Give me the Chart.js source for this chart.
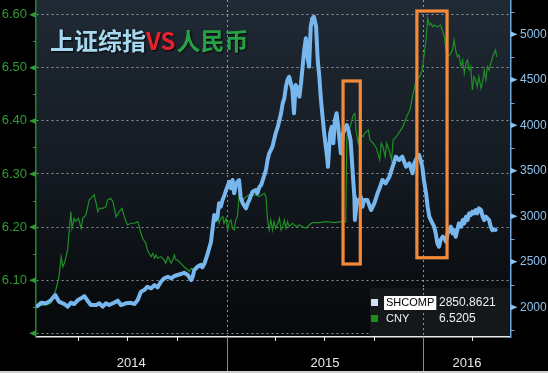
<!DOCTYPE html>
<html>
<head>
<meta charset="utf-8">
<script src="https://cdn.jsdelivr.net/npm/chart.js@4.4.1/dist/chart.umd.min.js"></script>
<style>
  html, body { margin: 0; padding: 0; background: #000; }
  #wrap { width: 548px; height: 373px; position: relative; }
  canvas { display: block; }
</style>
</head>
<body>
<div id="wrap"><canvas id="c" width="548" height="373"></canvas></div>
<script>
// x values are day offsets counted from 2014-01-01
const shDays = [14,21,30,39,47,54,64,70,76,82,89,95,101,107,113,123,129,135,141,147,156,163,169,178,
  187,194,200,206,212,218,225,231,237,243,249,256,262,268,274,280,286,293,299,302,305,311,317,320,324,
  330,336,339,342,345,348,351,354,358,360,364,370,373,376,379,382,385,388,391,395,401,404,407,413,419,
  422,426,429,432,438,441,444,450,453,456,460,463,466,469,472,475,478,481,484,487,490,493,497,500,503,
  506,509,512,515,518,521,524,527,531,534,537,540,543,546,549,552,553,557,560,563,566,569,572,577,581,
  588,591,595,599,602,603,607,611,614,617,620,626,633,639,645,649,654,660,667,673,679,685,691,698,704,
  710,713,719,722,725,728,731,735,738,741,744,747,750,753,756,759,762,766,769,772,775,778,781,784,787,
  790,793,796,800,803,806,809,812,815,818,821,824,827,830,833,837,840,843,846,849,852,855,858,861,864];
const shVals = [2014,2051,2044,2080,2135,2062,2036,2007,2051,2036,2080,2099,2124,2073,2025,2025,2044,2007,2044,2025,2051,2073,2025,2044,
  2050,2036,2080,2171,2190,2226,2209,2245,2220,2281,2319,2336,2319,2344,2355,2366,2380,2355,2300,2336,2410,2446,2465,2440,2483,
  2593,2721,2868,3014,2960,2996,3143,3106,3190,3215,3289,3380,3308,3399,3253,3344,3380,3399,3215,3143,3088,3143,3179,3270,3289,
  3253,3325,3344,3399,3509,3619,3692,3765,3839,3912,3985,4058,4132,4242,4297,4424,4498,4534,4462,4388,4132,4443,4406,4315,4462,
  4645,4828,4956,4754,4645,5083,5174,5193,5083,4718,4534,4278,4095,3912,3765,3619,3545,3912,3985,3802,4058,4132,3985,3692,3912,
  4003,3948,3838,3473,3215,2959,3179,3143,3215,3105,3179,3179,3069,3143,3253,3311,3399,3363,3435,3545,3655,3619,3655,3545,3582,
  3473,3582,3655,3674,3619,3545,3399,3253,3105,2996,2959,2923,2886,2813,2703,2666,2740,2776,2758,2721,2813,2849,2886,2813,2849,
  2776,2849,2923,2886,2959,2923,2996,2959,3033,3014,3051,3033,3069,3033,3088,3069,2996,2959,2996,2978,2959,2886,2849,2857,2851];

const cnyDays = [14,30,39,48,54,58,61,64,67,70,73,76,78,82,85,90,95,98,104,110,116,119,123,126,129,135,141,144,150,154,
  160,166,171,175,181,187,194,200,203,206,209,215,218,221,225,228,231,234,237,243,246,249,252,256,258,262,265,268,271,274,
  280,286,293,296,299,305,311,317,323,330,336,339,342,345,348,351,354,358,360,364,367,370,373,376,379,382,385,388,391,395,
  401,407,413,419,425,435,438,441,444,447,450,453,456,460,463,466,469,472,475,478,481,487,494,500,506,512,518,524,537,549,
  565,577,586,588,589,594,600,603,605,609,612,618,621,628,631,637,643,649,652,655,659,662,668,671,674,680,686,692,699,705,
  711,717,723,728,731,735,738,741,744,747,750,756,762,766,769,772,775,778,781,784,787,790,793,796,800,803,806,809,812,815,
  818,821,824,827,830,833,837,840,843,846,849,852,855,858,861,864,866];
const cnyVals = [6.0514,6.0533,6.0570,6.0815,6.1066,6.1443,6.1254,6.1318,6.1443,6.1569,6.1945,6.2290,6.1977,6.2166,6.2102,6.2166,6.1977,6.2166,6.2228,6.2510,
  6.2573,6.2605,6.2448,6.2290,6.2354,6.2354,6.2384,6.2510,6.2542,6.2478,6.2196,6.2290,6.2354,6.2196,6.2040,6.2072,6.2072,6.2102,6.2008,6.1883,
  6.1789,6.1695,6.1569,6.1507,6.1443,6.1507,6.1412,6.1475,6.1412,6.1443,6.1412,6.1380,6.1318,6.1443,6.1412,6.1318,6.1380,6.1475,6.1380,6.1380,
  6.1318,6.1254,6.1192,6.1160,6.1224,6.1192,6.1286,6.1318,6.1318,6.1569,6.1757,6.1945,6.2072,6.2134,6.2228,6.2072,6.2166,6.2196,6.2072,6.2166,
  6.1945,6.2102,6.2134,6.1977,6.1945,6.2134,6.2196,6.2573,6.2478,6.2510,6.2573,6.2605,6.2605,6.2605,6.2573,6.2637,6.2573,6.2134,6.1945,6.2134,
  6.1945,6.2102,6.1977,6.2072,6.2166,6.1945,6.2008,6.2134,6.1977,6.2102,6.2008,6.2072,6.2008,6.2040,6.2008,6.1977,6.2040,6.2083,6.2083,6.2102,
  6.2083,6.2102,6.2102,6.3640,6.3766,6.3891,6.4111,6.4143,6.3829,6.3578,6.3766,6.3702,6.3766,6.3829,6.3640,6.3578,6.3484,6.3264,6.3578,6.3514,
  6.3326,6.3578,6.3390,6.3264,6.3640,6.3702,6.3797,6.3891,6.4079,6.4205,6.4520,6.4770,6.4832,6.4959,6.5209,6.5524,6.5932,6.5806,6.5838,6.5774,
  6.5806,6.5774,6.5806,6.5680,6.5586,6.5335,6.5209,6.5241,6.5273,6.5335,6.5524,6.5335,6.5209,6.5241,6.5021,6.5147,6.4896,6.5085,6.5147,6.4959,
  6.5021,6.4582,6.4832,6.4770,6.4644,6.4832,6.4614,6.4738,6.4959,6.4770,6.5021,6.4959,6.5085,6.5179,6.5273,6.5335,6.5205];

const cnyTicks = [6.0, 6.1, 6.2, 6.3, 6.4, 6.5, 6.6];
const cnyMinor = [6.05, 6.15, 6.25, 6.35, 6.45, 6.55];
const shTicks = [2000, 2500, 3000, 3500, 4000, 4500, 5000];
const shMinor = [1750, 2250, 2750, 3250, 3750, 4250, 4750, 5250];
const quarterDays = [90, 181, 273, 455, 546, 638, 821];
const yearDays = [0, 365, 730, 1095];
const yearLabels = ['2014', '2015', '2016'];

const legendNames = ['SHCOMP', 'CNY'];
const legendValues = ['2850.8621', '6.5205'];
const titleParts = ['上证综指', 'VS', '人民币'];

// highlighted periods: [startDay, endDay, topSH, bottomSH]
const boxStart = [581, 718];
const boxEnd = [613, 774];
const boxTop = [4487, 5256];
const boxBottom = [2476, 2545];

const X_MIN = 11.3, X_MAX = 891.7;
const CNY_MIN = 5.993, CNY_MAX = 6.6277;
const SH_MIN = 1674, SH_MAX = 5377;

const C_BLUE = '#78b6ee';
const C_GREEN = '#1f8f24';
const C_GREEN_TXT = '#2e9c32';
const C_BLUE_TXT = '#8cc2ee';
const GRID = 'rgba(185,190,195,0.75)';

function noPad(s) { s.paddingTop = 0; s.paddingBottom = 0; s.paddingLeft = 0; s.paddingRight = 0; }

const decor = {
  id: 'decor',
  beforeDraw(chart) {
    const {ctx, chartArea: a} = chart;
    ctx.save();
    ctx.fillStyle = '#000';
    ctx.fillRect(0, 0, chart.width, chart.height);
    const g = ctx.createLinearGradient(0, a.top, 0, a.bottom);
    g.addColorStop(0, '#202a35');
    g.addColorStop(0.55, '#131920');
    g.addColorStop(1, '#06080a');
    ctx.fillStyle = g;
    ctx.fillRect(a.left, a.top, a.right - a.left, a.bottom - a.top);
    ctx.restore();
  },
  beforeDatasetsDraw(chart) {
    const {ctx, chartArea: a, scales: {x}} = chart;
    ctx.save();
    ctx.strokeStyle = GRID;
    ctx.lineWidth = 1;
    ctx.setLineDash([2, 3]);
    [yearDays[1], yearDays[2]].forEach(d => {
      const px = Math.round(x.getPixelForValue(d)) + 0.5;
      ctx.beginPath(); ctx.moveTo(px, a.top); ctx.lineTo(px, a.bottom); ctx.stroke();
    });
    ctx.restore();
  },
  afterDatasetsDraw(chart) {
    const {ctx, scales: {x, yR}} = chart;
    ctx.save();
    ctx.strokeStyle = '#f28a3a';
    ctx.lineWidth = 3.2;
    for (let i = 0; i < boxStart.length; i++) {
      const x1 = x.getPixelForValue(boxStart[i]), x2 = x.getPixelForValue(boxEnd[i]);
      const y1 = yR.getPixelForValue(boxTop[i]), y2 = yR.getPixelForValue(boxBottom[i]);
      ctx.strokeRect(x1, y1, x2 - x1, y2 - y1);
    }
    ctx.restore();
  },
  afterDraw(chart) {
    const {ctx, chartArea: a, scales: {x, yL, yR}} = chart;
    ctx.save();
    // left axis markers
    ctx.fillStyle = C_GREEN_TXT; ctx.strokeStyle = C_GREEN_TXT; ctx.lineWidth = 1;
    cnyTicks.forEach(v => {
      const py = yL.getPixelForValue(v);
      ctx.beginPath(); ctx.moveTo(a.left, py - 3); ctx.lineTo(a.left - 7, py); ctx.lineTo(a.left, py + 3); ctx.closePath(); ctx.fill();
    });
    cnyMinor.forEach(v => {
      const py = Math.round(yL.getPixelForValue(v)) + 0.5;
      ctx.beginPath(); ctx.moveTo(a.left - 3, py); ctx.lineTo(a.left, py); ctx.stroke();
    });
    // right axis markers
    ctx.fillStyle = C_BLUE_TXT; ctx.strokeStyle = '#6fa8dc';
    shTicks.forEach(v => {
      const py = yR.getPixelForValue(v);
      ctx.beginPath(); ctx.moveTo(a.right, py - 3); ctx.lineTo(a.right + 7, py); ctx.lineTo(a.right, py + 3); ctx.closePath(); ctx.fill();
    });
    shMinor.forEach(v => {
      const py = Math.round(yR.getPixelForValue(v)) + 0.5;
      ctx.beginPath(); ctx.moveTo(a.right, py); ctx.lineTo(a.right + 4, py); ctx.stroke();
    });
    // bottom axis ticks
    ctx.strokeStyle = '#e8e8e8'; ctx.lineWidth = 1;
    quarterDays.forEach(d => {
      const px = Math.round(x.getPixelForValue(d)) + 0.5;
      ctx.beginPath(); ctx.moveTo(px, a.bottom); ctx.lineTo(px, a.bottom + 4); ctx.stroke();
    });
    ctx.strokeStyle = '#8a8a8a';
    [yearDays[1], yearDays[2]].forEach(d => {
      const px = Math.round(x.getPixelForValue(d)) + 0.5;
      ctx.beginPath(); ctx.moveTo(px, a.bottom); ctx.lineTo(px, chart.height); ctx.stroke();
    });
    // year labels centred on the visible part of each year
    ctx.fillStyle = '#e6e6e6';
    ctx.font = '13px "Liberation Sans", Arial, sans-serif';
    ctx.textAlign = 'center'; ctx.textBaseline = 'middle';
    yearLabels.forEach((lab, i) => {
      const s = Math.max(yearDays[i], X_MIN), e = Math.min(yearDays[i + 1], X_MAX);
      const px = (x.getPixelForValue(s) + x.getPixelForValue(e)) / 2;
      ctx.fillText(lab, px, a.bottom + 26);
    });
    // thin light frame line at the very bottom of the screenshot
    ctx.fillStyle = '#cfcfcf';
    ctx.fillRect(0, chart.height - 2, chart.width, 2);
    // legend box
    const lx = 370, ly = 288;
    ctx.fillStyle = '#15181b';
    ctx.fillRect(lx, ly, a.right - lx - 1, a.bottom - ly - 1);
    ctx.strokeStyle = GRID; ctx.setLineDash([2, 3]);
    const gx = Math.round(x.getPixelForValue(yearDays[2])) + 0.5;
    ctx.beginPath(); ctx.moveTo(gx, ly); ctx.lineTo(gx, a.bottom - 1); ctx.stroke();
    ctx.setLineDash([]);
    const rows = [ly + 15, ly + 31];
    const sw = ['#cfe0f7', '#1a8f1a'];
    ctx.textAlign = 'left';
    legendNames.forEach((n, i) => {
      ctx.fillStyle = sw[i];
      ctx.fillRect(lx + 1, rows[i] - 4, 7, 7);
      ctx.font = '11px "Liberation Sans", Arial, sans-serif';
      if (i === 0) {
        const w = ctx.measureText(n).width;
        ctx.fillStyle = '#ffffff';
        ctx.fillRect(lx + 14, rows[i] - 7, w + 4, 14);
        ctx.fillStyle = '#000';
      } else {
        ctx.fillStyle = '#f0f0f0';
      }
      ctx.fillText(n, lx + 16, rows[i]);
      ctx.fillStyle = '#f0f0f0';
      ctx.font = '12px "Liberation Sans", Arial, sans-serif';
      ctx.fillText(legendValues[i], lx + 69, rows[i]);
    });
    // title
    ctx.font = 'bold 24px "Noto Sans CJK SC", sans-serif';
    ctx.textAlign = 'left'; ctx.textBaseline = 'middle';
    ctx.shadowColor = 'rgba(0,0,0,0.9)'; ctx.shadowBlur = 2; ctx.shadowOffsetX = 1; ctx.shadowOffsetY = 1;
    const tc = ['#a6d8ef', '#e5232c', '#27a046'];
    let tx = 50;
    titleParts.forEach((t, i) => {
      ctx.fillStyle = tc[i];
      ctx.fillText(t, tx, 41);
      tx += ctx.measureText(t).width + (i === 1 ? 1 : 0);
    });
    ctx.restore();
  }
};

new Chart(document.getElementById('c'), {
  type: 'line',
  data: {
    datasets: [
      {
        label: 'SHCOMP',
        data: shDays.map((d, i) => ({x: d, y: shVals[i]})),
        yAxisID: 'yR',
        borderColor: C_BLUE,
        borderWidth: 4,
        pointRadius: 0,
        tension: 0,
        borderJoinStyle: 'round',
        borderCapStyle: 'round',
        order: 0
      },
      {
        label: 'CNY',
        data: cnyDays.map((d, i) => ({x: d, y: cnyVals[i]})),
        yAxisID: 'yL',
        borderColor: C_GREEN,
        borderWidth: 1.2,
        pointRadius: 0,
        tension: 0,
        order: 1
      }
    ]
  },
  options: {
    responsive: false,
    animation: false,
    events: [],
    layout: {padding: 0},
    plugins: {legend: {display: false}, tooltip: {enabled: false}, title: {display: false}},
    scales: {
      x: {
        type: 'linear', position: 'bottom', min: X_MIN, max: X_MAX,
        afterFit(s) { s.height = 36; noPad(s); },
        ticks: {display: false},
        grid: {display: false, drawTicks: false},
        border: {display: true, color: '#e8e8e8', width: 1.5}
      },
      yL: {
        type: 'linear', position: 'left', min: CNY_MIN, max: CNY_MAX,
        afterBuildTicks(s) { s.ticks = cnyTicks.map(v => ({value: v})); },
        afterFit(s) { s.width = 36; noPad(s); },
        ticks: {
          color: C_GREEN_TXT, padding: 9,
          font: {family: '"Liberation Sans", Arial, sans-serif', size: 13},
          callback: (v) => (Math.abs(v - 6.0) < 1e-9 ? '' : Number(v).toFixed(2))
        },
        grid: {color: GRID, lineWidth: 1, drawTicks: false, borderDash: [2, 3]},
        border: {display: true, color: '#1f8a24', width: 1.5, dash: [2, 3]}
      },
      yR: {
        type: 'linear', position: 'right', min: SH_MIN, max: SH_MAX,
        afterBuildTicks(s) { s.ticks = shTicks.map(v => ({value: v})); },
        afterFit(s) { s.width = 37.5; noPad(s); },
        ticks: {
          color: C_BLUE_TXT, padding: 9.5,
          font: {family: '"Liberation Sans", Arial, sans-serif', size: 12},
          callback: (v) => String(v)
        },
        grid: {display: false, drawTicks: false},
        border: {display: true, color: '#6fa8dc', width: 1.5}
      }
    }
  },
  plugins: [decor]
});
</script>
</body>
</html>
